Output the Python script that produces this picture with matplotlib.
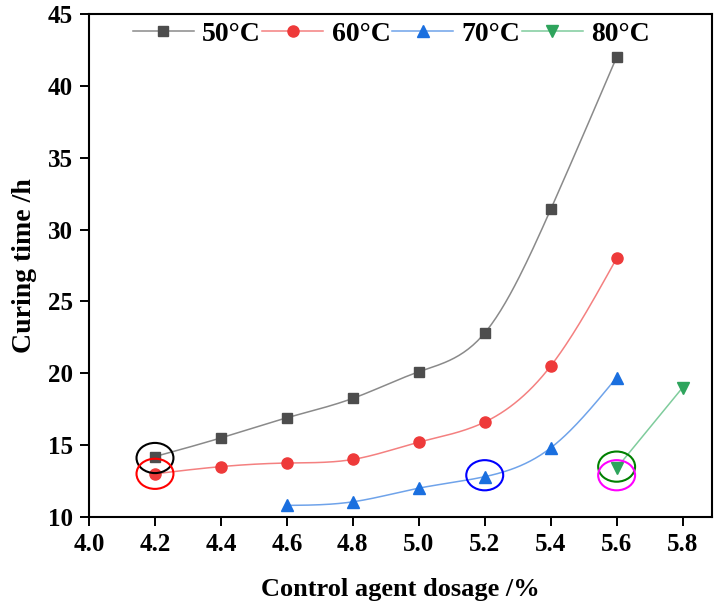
import matplotlib
matplotlib.use("Agg")
import matplotlib.pyplot as plt
from matplotlib.patches import Ellipse
import numpy as np

plt.rcParams['font.family'] = ['Liberation Serif', 'DejaVu Serif']
plt.rcParams['font.weight'] = 'bold'

# data
x_50 = [4.2, 4.4, 4.6, 4.8, 5.0, 5.2, 5.4, 5.6]
y_50 = [14.2, 15.5, 16.9, 18.25, 20.1, 22.8, 31.4, 42.0]
x_60 = [4.2, 4.4, 4.6, 4.8, 5.0, 5.2, 5.4, 5.6]
y_60 = [13.0, 13.5, 13.75, 14.0, 15.2, 16.6, 20.5, 28.0]
x_70 = [4.6, 4.8, 5.0, 5.2, 5.4, 5.6]
y_70 = [10.8, 11.05, 12.0, 12.8, 14.8, 19.7]
x_80 = [5.6, 5.8]
y_80 = [13.4, 19.0]
labels = ['50°C', '60°C', '70°C', '80°C']

# highlighted points (center x, center y, colour)
ring_x = [4.2, 4.2, 5.2, 5.6, 5.6]
ring_y = [14.1, 13.0, 12.9, 13.5, 12.9]
ring_c = ['black', 'red', 'blue', 'green', 'magenta']


def spline(x, y, n=200):
    # natural cubic spline through the points, for the smoothed connecting line
    x = np.asarray(x, float)
    y = np.asarray(y, float)
    if len(x) < 3:
        return x, y
    h = np.diff(x)
    m = len(x)
    A = np.zeros((m, m))
    b = np.zeros(m)
    A[0, 0] = A[-1, -1] = 1
    for i in range(1, m - 1):
        A[i, i - 1] = h[i - 1]
        A[i, i] = 2 * (h[i - 1] + h[i])
        A[i, i + 1] = h[i]
        b[i] = 6 * ((y[i + 1] - y[i]) / h[i] - (y[i] - y[i - 1]) / h[i - 1])
    M = np.linalg.solve(A, b)
    xs = np.linspace(x[0], x[-1], n)
    idx = np.clip(np.searchsorted(x, xs) - 1, 0, m - 2)
    x0, x1 = x[idx], x[idx + 1]
    hh = x1 - x0
    t0, t1 = x1 - xs, xs - x0
    ys = (M[idx] * t0 ** 3 + M[idx + 1] * t1 ** 3) / (6 * hh) \
        + (y[idx] / hh - M[idx] * hh / 6) * t0 + (y[idx + 1] / hh - M[idx + 1] * hh / 6) * t1
    return xs, ys


fig, ax = plt.subplots(figsize=(7.18, 6.11), dpi=100)
fig.subplots_adjust(left=0.124, right=0.992, top=0.977, bottom=0.154)

series = [(x_50, y_50, '#4d4d4d', '#8a8a8a', 's', 7),
          (x_60, y_60, '#ee3a3a', '#f48080', 'o', 8),
          (x_70, y_70, '#1a6fdf', '#6fa3ea', '^', 8.5),
          (x_80, y_80, '#2ea45c', '#7fcc9c', 'v', 8.5)]

for (xs, ys, mc, lc, mk, ms), lab in zip(series, labels):
    sx, sy = spline(xs, ys)
    ax.plot(sx, sy, color=lc, lw=1.1, zorder=2)
    ax.plot(xs, ys, ls='none', marker=mk, ms=ms, color=mc, zorder=3)
    ax.plot([], [], color=lc, lw=1.1, marker=mk, ms=ms, mfc=mc, mec=mc, label=lab)

for cx, cy, c in zip(ring_x, ring_y, ring_c):
    ax.add_patch(Ellipse((cx, cy), 0.112, 2.1, fill=False, ec=c, lw=1.5, zorder=4))

ax.set_xlim(4.0, 5.89)
ax.set_ylim(10, 45)
ax.set_xticks(np.arange(4.0, 5.81, 0.2))
ax.set_yticks(range(10, 46, 5))
ax.tick_params(direction='out', length=6.5, width=1.4, labelsize=18, pad=5)
for s in ax.spines.values():
    s.set_linewidth(1.5)

ax.set_xlabel('Control agent dosage /%', fontsize=19, fontweight='bold', labelpad=16)
ax.set_ylabel('Curing time /h', fontsize=20, fontweight='bold', labelpad=8)

ax.legend(loc='upper center', bbox_to_anchor=(0.485, 1.035), ncol=4, frameon=False,
          prop={'size': 20, 'weight': 'bold'}, handlelength=2.2, columnspacing=0.05,
          handletextpad=0.3)

fig.savefig('out.png', dpi=100)
